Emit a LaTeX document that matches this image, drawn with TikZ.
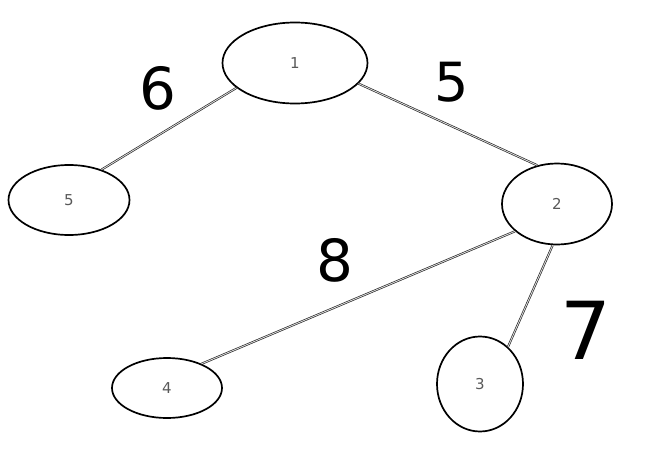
\documentclass[tikz,border=0pt]{standalone}
\usepackage{fontspec}
\usetikzlibrary{shapes.geometric}
\setmainfont{DejaVu Sans}
\begin{document}
\begin{tikzpicture}[x=1pt,y=-1pt,
  vertex/.style={draw=black,line width=1.7pt,ellipse,inner sep=0pt},
  vtext/.style={text=black!65,font=\fontsize{15}{15}\selectfont},
  edge/.style={draw=black!90,double=black!15,double distance=0.9pt,line width=0.6pt},
  wlabel/.style={text=black}]
\useasboundingbox (0,0) rectangle (659,471);
\node[vertex,minimum width=145pt,minimum height=81pt] (n1) at (295,63) {};
\node[vertex,minimum width=121pt,minimum height=70pt] (n5) at (69,200) {};
\node[vertex,minimum width=110pt,minimum height=81pt] (n2) at (557,204) {};
\node[vertex,minimum width=110pt,minimum height=60pt] (n4) at (167,388) {};
\node[vertex,minimum width=86pt,minimum height=95pt] (n3) at (480,384) {};
\node[vtext] (t1) at (n1) {1};
\node[vtext] (t5) at (n5) {5};
\node[vtext] (t2) at (n2) {2};
\node[vtext] (t4) at (n4) {4};
\node[vtext] (t3) at (n3) {3};
\draw[edge] (n1.203) -- (n5.43);
\draw[edge] (n1.-18) -- (n2.117);
\draw[edge] (n2.213) -- (n4.35);
\draw[edge] (n2.-96) -- (n3.53);
\node[wlabel,font=\fontsize{58}{58}\selectfont] (l6) at (158,88) {6};
\node[wlabel,font=\fontsize{54}{54}\selectfont] (l5) at (452,82) {5};
\node[wlabel,font=\fontsize{58}{58}\selectfont] (l8) at (335,260) {8};
\node[wlabel,font=\fontsize{80}{80}\selectfont] (l7) at (586,330) {7};
\end{tikzpicture}
\end{document}
